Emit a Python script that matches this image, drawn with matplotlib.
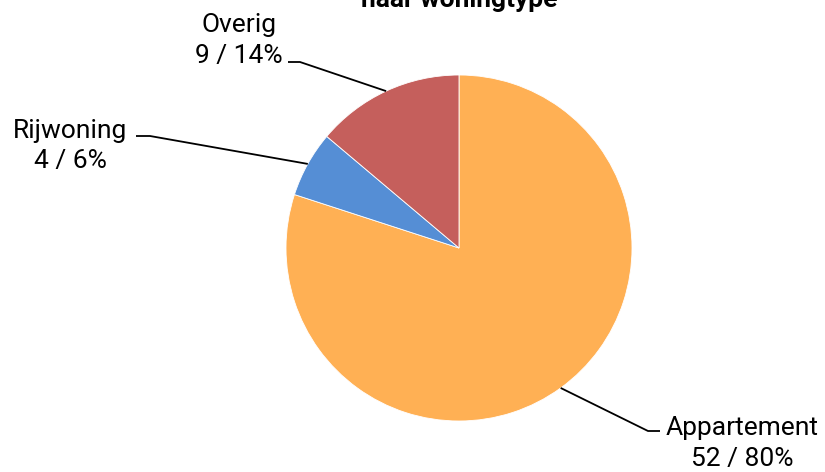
import matplotlib

matplotlib.use("Agg")
import matplotlib.pyplot as plt
import numpy as np

plt.rcParams["font.family"] = ["Roboto", "DejaVu Sans"]

CATEGORIES = ["Appartement", "Rijwoning", "Overig"]
COUNTS = [52, 4, 9]
COLORS = ["#FFB054", "#558ED5", "#C55F5C"]
TITLE = "naar woningtype"

# label layout in pixels (y from top): text centre x, baseline of each line,
# leader elbow (text end x, knee x, y)
LABEL_POS = {
    "Appartement": (742, 435, 466, (660, 648, 431)),
    "Rijwoning": (70, 138, 168, (136, 150, 136)),
    "Overig": (239, 32, 63, (288, 300, 62)),
}

W, H = 825, 472
CENTER = (459, 248)
RADIUS = 173

fig = plt.figure(figsize=(W / 100, H / 100), dpi=100)
ax = fig.add_axes([0, 0, 1, 1])
ax.set_xlim(0, W)
ax.set_ylim(0, H)

total = sum(COUNTS)
cx, cy = CENTER[0], H - CENTER[1]
wedges, _ = ax.pie(
    COUNTS, colors=COLORS, startangle=90, counterclock=False,
    center=(cx, cy), radius=RADIUS, frame=True,
    wedgeprops={"edgecolor": "white", "linewidth": 0.6},
)

for w, name, n in zip(wedges, CATEGORIES, COUNTS):
    ang = np.deg2rad((w.theta1 + w.theta2) / 2)
    px = cx + RADIUS * np.cos(ang)
    py = cy + RADIUS * np.sin(ang)
    tx, b1, b2, (ex, kx, ey) = LABEL_POS[name]
    pct = round(100 * n / total)
    ax.text(tx, H - b1, name, ha="center", va="baseline", fontsize=19)
    ax.text(tx, H - b2, f"{n} / {pct}%", ha="center", va="baseline", fontsize=19)
    ax.plot([px, kx, ex], [py, H - ey, H - ey], color="black", lw=1.3,
            solid_capstyle="butt")

# first title line lies above the canvas in the original; only this shows
ax.text(cx, H - 7, TITLE, ha="center", va="baseline", fontsize=19,
        fontweight="bold")

ax.set_xlim(0, W)
ax.set_ylim(0, H)
ax.set_aspect("equal")
ax.axis("off")

fig.savefig("out.png", dpi=100)
